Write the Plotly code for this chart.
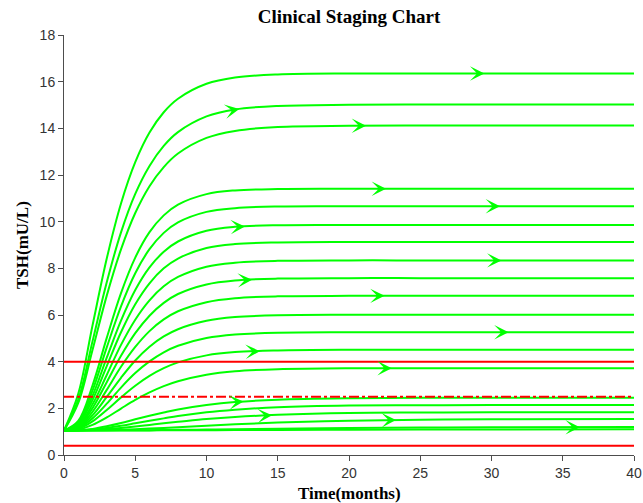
import numpy as np
import plotly.graph_objects as go

title_text = "Clinical Staging Chart"
x_label = "Time(months)"
y_label = "TSH(mU/L)"

# sampling months shared by every trajectory
months = [0, 1, 2, 3, 4, 5, 6, 7, 8, 10, 12, 15, 20, 25, 30, 40]

# TSH trajectories (mU/L), highest plateau first
tsh_c1 = [1.05, 2.62, 5.55, 8.42, 10.78, 12.55, 13.82, 14.69, 15.27, 15.91, 16.18, 16.31, 16.35, 16.35, 16.35, 16.35]
tsh_c2 = [1.05, 2.37, 4.87, 7.40, 9.54, 11.19, 12.39, 13.25, 13.84, 14.51, 14.81, 14.96, 15.01, 15.02, 15.02, 15.02]
tsh_c3 = [1.05, 2.23, 4.50, 6.83, 8.81, 10.37, 11.52, 12.34, 12.92, 13.59, 13.89, 14.06, 14.11, 14.12, 14.12, 14.12]
tsh_c4 = [1.05, 1.46, 2.98, 5.02, 6.94, 8.46, 9.55, 10.27, 10.73, 11.18, 11.34, 11.40, 11.41, 11.41, 11.41, 11.41]
tsh_c5 = [1.05, 1.41, 2.76, 4.61, 6.37, 7.79, 8.82, 9.52, 9.97, 10.42, 10.58, 10.65, 10.66, 10.66, 10.66, 10.66]
tsh_c6 = [1.05, 1.36, 2.54, 4.17, 5.76, 7.07, 8.04, 8.71, 9.15, 9.61, 9.78, 9.85, 9.86, 9.86, 9.86, 9.86]
tsh_c7 = [1.05, 1.32, 2.36, 3.81, 5.26, 6.46, 7.36, 8.00, 8.42, 8.87, 9.04, 9.11, 9.13, 9.13, 9.13, 9.13]
tsh_c8 = [1.05, 1.27, 2.17, 3.43, 4.72, 5.80, 6.63, 7.23, 7.63, 8.07, 8.24, 8.32, 8.34, 8.34, 8.34, 8.34]
tsh_c9 = [1.05, 1.24, 2.01, 3.12, 4.25, 5.22, 5.97, 6.52, 6.90, 7.31, 7.48, 7.56, 7.58, 7.58, 7.58, 7.58]
tsh_c10 = [1.05, 1.21, 1.85, 2.79, 3.78, 4.63, 5.31, 5.81, 6.16, 6.55, 6.72, 6.80, 6.82, 6.82, 6.82, 6.82]
tsh_c11 = [1.05, 1.18, 1.70, 2.49, 3.31, 4.05, 4.64, 5.08, 5.39, 5.75, 5.91, 5.99, 6.01, 6.01, 6.01, 6.01]
tsh_c12 = [1.05, 1.15, 1.57, 2.20, 2.89, 3.51, 4.01, 4.40, 4.68, 5.01, 5.16, 5.24, 5.26, 5.26, 5.26, 5.26]
tsh_c13 = [1.05, 1.12, 1.44, 1.93, 2.47, 2.97, 3.39, 3.72, 3.97, 4.27, 4.41, 4.48, 4.51, 4.51, 4.51, 4.51]
tsh_c14 = [1.05, 1.09, 1.29, 1.61, 1.99, 2.36, 2.68, 2.95, 3.16, 3.44, 3.59, 3.68, 3.72, 3.72, 3.72, 3.72]
tsh_c15 = [1.05, 1.06, 1.12, 1.23, 1.37, 1.53, 1.68, 1.82, 1.95, 2.14, 2.27, 2.37, 2.43, 2.45, 2.45, 2.45]
tsh_c16 = [1.05, 1.06, 1.09, 1.16, 1.25, 1.36, 1.47, 1.57, 1.67, 1.83, 1.94, 2.05, 2.12, 2.13, 2.14, 2.14]
tsh_c17 = [1.05, 1.05, 1.07, 1.11, 1.16, 1.22, 1.29, 1.36, 1.42, 1.54, 1.63, 1.72, 1.80, 1.82, 1.83, 1.83]
tsh_c18 = [1.05, 1.05, 1.056, 1.067, 1.084, 1.106, 1.133, 1.162, 1.193, 1.255, 1.314, 1.389, 1.471, 1.515, 1.535, 1.548]
tsh_c19 = [1.05, 1.05, 1.051, 1.053, 1.056, 1.060, 1.065, 1.071, 1.077, 1.091, 1.106, 1.127, 1.156, 1.175, 1.186, 1.196]
tsh_c20 = [1.05, 1.05, 1.05, 1.051, 1.052, 1.053, 1.055, 1.057, 1.059, 1.064, 1.069, 1.076, 1.085, 1.092, 1.095, 1.099]

trajectories = [tsh_c1, tsh_c2, tsh_c3, tsh_c4, tsh_c5, tsh_c6, tsh_c7, tsh_c8, tsh_c9, tsh_c10,
                tsh_c11, tsh_c12, tsh_c13, tsh_c14, tsh_c15, tsh_c16, tsh_c17, tsh_c18, tsh_c19, tsh_c20]

# month where each trajectory carries its direction arrow (None: no arrow)
arrow_months = [29.5, 12.3, 21.2, 22.6, 30.6, 12.7, None, 30.7, 13.2, 22.5,
                None, 31.2, 13.75, 23.0, 12.6, None, 14.6, 23.3, 36.2, None]

# staging thresholds (mU/L)
upper_limit = 4.0
target_limit = 2.5
lower_limit = 0.4

x_ticks = [0, 5, 10, 15, 20, 25, 30, 35, 40]
y_ticks = [0, 2, 4, 6, 8, 10, 12, 14, 16, 18]

GREEN = "#00ff00"
RED = "#ff0000"
SERIF = "Liberation Serif, Times New Roman, serif"

fig = go.Figure()

for series in trajectories:
    fig.add_trace(go.Scatter(
        x=months, y=series, mode="lines",
        line=dict(color=GREEN, width=2, shape="spline"),
        hoverinfo="skip", showlegend=False,
    ))

# threshold lines spanning the whole time axis
span = [x_ticks[0], x_ticks[-1]]
for level, dash in [(upper_limit, "solid"), (target_limit, "10px,3px,3px,3px"), (lower_limit, "solid")]:
    fig.add_trace(go.Scatter(
        x=span, y=[level, level], mode="lines",
        line=dict(color=RED, width=2, dash=dash),
        hoverinfo="skip", showlegend=False,
    ))

# direction arrows sitting on the trajectories
for series, tip in zip(trajectories, arrow_months):
    if tip is None:
        continue
    tail = tip - 0.7
    fig.add_annotation(
        x=tip, y=float(np.interp(tip, months, series)),
        ax=tail, ay=float(np.interp(tail, months, series)),
        xref="x", yref="y", axref="x", ayref="y",
        text="", showarrow=True, arrowhead=3, arrowsize=1.2,
        arrowwidth=2, arrowcolor=GREEN, standoff=0,
    )

# axis titles
fig.add_annotation(
    text=x_label, xref="paper", yref="paper", x=0.5, y=0,
    xanchor="center", yanchor="middle", yshift=-38, showarrow=False,
    font=dict(family=SERIF, size=17, color="black", weight="bold"),
)
fig.add_annotation(
    text=y_label, xref="paper", yref="paper", x=0, y=0.5,
    xanchor="center", yanchor="middle", xshift=-42, textangle=-90, showarrow=False,
    font=dict(family=SERIF, size=17, color="black", weight="bold"),
)

axis_common = dict(
    showline=True, linecolor="#4d4d4d", linewidth=1,
    ticks="outside", ticklen=5, tickwidth=1, tickcolor="#4d4d4d",
    tickfont=dict(family="Liberation Sans, Arial, sans-serif", size=14, color="#333333"),
    showgrid=False, zeroline=False, mirror=False, automargin=False,
)

fig.update_layout(
    width=643, height=503,
    margin=dict(l=64, r=9, t=35, b=48, autoexpand=False),
    paper_bgcolor="white", plot_bgcolor="white",
    showlegend=False,
    title=dict(
        text=title_text, x=0.5, xref="paper", xanchor="center",
        y=1 - 16 / 503, yref="container", yanchor="middle",
        font=dict(family=SERIF, size=19, color="black", weight="bold"),
    ),
    xaxis=dict(range=[0, 40], tickvals=x_ticks, **axis_common),
    yaxis=dict(range=[0, 18], tickvals=y_ticks, **axis_common),
)

fig.write_html("out.html")
